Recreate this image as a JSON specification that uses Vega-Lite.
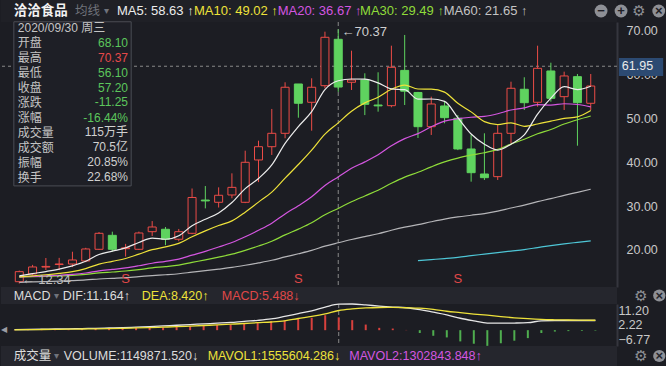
{
  "$schema": "https://vega.github.io/schema/vega-lite/v6.json",
  "padding": 0,
  "background": "#1c1d23",
  "spacing": 0,
  "bounds": "flush",
  "config": {
    "view": {"stroke": null},
    "font": "Liberation Sans, Noto Sans CJK SC, sans-serif",
    "text": {"font": "Liberation Sans, Noto Sans CJK SC, sans-serif"}
  },
  "datasets": {
    "k": [
      {"i":1,"o":12.76,"h":15.3,"l":12.34,"c":15.05,"m5":14.07,"m10":13.88,"m20":13.84,"m30":13.83,"m60":12.61,"dif":0.2,"dea":0.15,"macd":0.1},
      {"i":2,"o":14.52,"h":16.6,"l":14.3,"c":16.12,"m5":14.59,"m10":14.11,"m20":13.95,"m30":13.9,"m60":12.7,"dif":0.3,"dea":0.2,"macd":0.15},
      {"i":3,"o":16.1,"h":18.17,"l":15.43,"c":16.25,"m5":15.08,"m10":14.35,"m20":14.08,"m30":13.98,"m60":12.79,"dif":0.4,"dea":0.28,"macd":0.2},
      {"i":4,"o":16.7,"h":18.2,"l":15.4,"c":16.8,"m5":15.64,"m10":14.65,"m20":14.23,"m30":14.08,"m60":12.89,"dif":0.5,"dea":0.35,"macd":0.25},
      {"i":5,"o":16.8,"h":19.6,"l":16.1,"c":17.72,"m5":16.39,"m10":15.04,"m20":14.42,"m30":14.21,"m60":13.01,"dif":0.6,"dea":0.42,"macd":0.3},
      {"i":6,"o":17.49,"h":20.5,"l":17.2,"c":20.23,"m5":17.42,"m10":15.75,"m20":14.74,"m30":14.43,"m60":13.16,"dif":0.7,"dea":0.5,"macd":0.4},
      {"i":7,"o":20.16,"h":24.1,"l":20.0,"c":23.81,"m5":18.96,"m10":16.78,"m20":15.24,"m30":14.76,"m60":13.38,"dif":0.8,"dea":0.58,"macd":0.5},
      {"i":8,"o":23.35,"h":24.18,"l":19.6,"c":20.16,"m5":19.74,"m10":17.41,"m20":15.56,"m30":14.97,"m60":13.54,"dif":0.95,"dea":0.68,"macd":0.6},
      {"i":9,"o":20.3,"h":21.4,"l":18.5,"c":20.5,"m5":20.48,"m10":18.06,"m20":15.9,"m30":15.2,"m60":13.7,"dif":1.1,"dea":0.8,"macd":0.8,"s":"S"},
      {"i":10,"o":20.16,"h":24.2,"l":20.0,"c":23.88,"m5":21.72,"m10":19.05,"m20":16.4,"m30":15.53,"m60":13.92,"dif":1.3,"dea":0.95,"macd":1.0},
      {"i":11,"o":24.18,"h":26.6,"l":23.2,"c":25.25,"m5":22.72,"m10":20.07,"m20":16.97,"m30":15.92,"m60":14.16,"dif":1.5,"dea":1.1,"macd":1.2},
      {"i":12,"o":24.73,"h":25.25,"l":21.1,"c":22.45,"m5":22.45,"m10":20.71,"m20":17.41,"m30":16.2,"m60":14.35,"dif":1.8,"dea":1.3,"macd":1.2},
      {"i":13,"o":22.45,"h":24.8,"l":22.0,"c":24.18,"m5":23.25,"m10":21.5,"m20":17.93,"m30":16.55,"m60":14.58,"dif":2.1,"dea":1.5,"macd":1.4},
      {"i":14,"o":23.81,"h":34.04,"l":23.6,"c":31.99,"m5":25.55,"m10":23.02,"m20":18.83,"m30":17.16,"m60":14.93,"dif":2.4,"dea":1.75,"macd":1.7},
      {"i":15,"o":31.4,"h":34.6,"l":29.5,"c":31.2,"m5":27.01,"m10":24.37,"m20":19.7,"m30":17.74,"m60":15.27,"dif":2.7,"dea":2.0,"macd":2.0},
      {"i":16,"o":30.89,"h":34.3,"l":29.7,"c":32.49,"m5":28.46,"m10":25.59,"m20":20.67,"m30":18.36,"m60":15.63,"dif":3.0,"dea":2.25,"macd":2.3},
      {"i":17,"o":32.56,"h":37.5,"l":31.8,"c":34.3,"m5":30.83,"m10":26.64,"m20":21.71,"m30":19.04,"m60":16.02,"dif":3.3,"dea":2.55,"macd":2.4},
      {"i":18,"o":30.89,"h":42.67,"l":30.7,"c":40.02,"m5":34.0,"m10":28.63,"m20":23.02,"m30":19.92,"m60":16.51,"dif":3.8,"dea":2.85,"macd":3.1},
      {"i":19,"o":40.55,"h":44.95,"l":35.5,"c":43.58,"m5":36.32,"m10":30.93,"m20":24.5,"m30":20.91,"m60":17.05,"dif":4.2,"dea":3.2,"macd":3.4},
      {"i":20,"o":43.58,"h":52.2,"l":41.7,"c":46.64,"m5":39.41,"m10":33.21,"m20":26.13,"m30":22.0,"m60":17.65,"dif":4.8,"dea":3.5,"macd":3.9},
      {"i":21,"o":46.64,"h":58.29,"l":45.5,"c":57.15,"m5":44.34,"m10":36.4,"m20":28.24,"m30":23.45,"m60":18.42,"dif":5.9,"dea":4.0,"macd":4.2},
      {"i":22,"o":57.9,"h":57.9,"l":50.2,"c":53.5,"m5":48.18,"m10":39.51,"m20":30.11,"m30":24.77,"m60":19.14,"dif":7.1,"dea":5.0,"macd":4.9,"s":"S"},
      {"i":23,"o":53.72,"h":59.2,"l":47.24,"c":57.15,"m5":51.6,"m10":42.8,"m20":32.15,"m30":26.22,"m60":19.91,"dif":8.3,"dea":5.9,"macd":5.3},
      {"i":24,"o":57.51,"h":69.84,"l":56.92,"c":68.56,"m5":56.6,"m10":46.46,"m20":34.74,"m30":28.04,"m60":20.87,"dif":9.9,"dea":7.0,"macd":6.4},
      {"i":25,"o":68.1,"h":70.37,"l":56.1,"c":57.2,"m5":58.63,"m10":49.02,"m20":36.67,"m30":29.49,"m60":21.65,"dif":11.164,"dea":8.42,"macd":5.488},
      {"i":26,"o":58.29,"h":65.5,"l":56.53,"c":58.81,"m5":59.04,"m10":51.69,"m20":38.64,"m30":31.01,"m60":22.39,"dif":11.2,"dea":9.1,"macd":4.3},
      {"i":27,"o":58.81,"h":60.34,"l":50.8,"c":53.26,"m5":59.0,"m10":53.59,"m20":40.11,"m30":32.34,"m60":23.05,"dif":10.8,"dea":9.5,"macd":2.4},
      {"i":28,"o":53.1,"h":60.57,"l":51.58,"c":52.9,"m5":58.15,"m10":54.88,"m20":41.75,"m30":33.64,"m60":23.7,"dif":10.3,"dea":9.7,"macd":1.0},
      {"i":29,"o":52.95,"h":66.64,"l":52.58,"c":61.71,"m5":56.78,"m10":56.69,"m20":43.81,"m30":35.23,"m60":24.5,"dif":9.9,"dea":9.75,"macd":0.7},
      {"i":30,"o":61.0,"h":69.09,"l":53.1,"c":56.25,"m5":56.59,"m10":57.65,"m20":45.43,"m30":36.64,"m60":25.21,"dif":9.6,"dea":9.6,"macd":0.1},
      {"i":31,"o":55.96,"h":56.1,"l":45.57,"c":48.15,"m5":54.45,"m10":56.75,"m20":46.57,"m30":37.74,"m60":25.78,"m120":17.55,"dif":8.8,"dea":9.4,"macd":-1.2},
      {"i":32,"o":48.15,"h":55.0,"l":46.26,"c":53.33,"m5":54.47,"m10":56.73,"m20":48.12,"m30":38.98,"m60":26.44,"m120":17.8,"dif":7.7,"dea":8.9,"macd":-2.4},
      {"i":33,"o":52.88,"h":53.86,"l":48.93,"c":50.21,"m5":53.93,"m10":56.04,"m20":49.42,"m30":40.11,"m60":27.05,"m120":18.05,"dif":6.55,"dea":8.1,"macd":-3.1},
      {"i":34,"o":50.07,"h":50.8,"l":42.8,"c":43.06,"m5":50.2,"m10":53.49,"m20":49.97,"m30":40.99,"m60":27.54,"m120":18.33,"dif":5.1,"dea":7.5,"macd":-4.8,"s":"S"},
      {"i":35,"o":43.06,"h":46.26,"l":35.6,"c":37.65,"m5":46.48,"m10":51.53,"m20":50.3,"m30":41.65,"m60":27.93,"m120":18.7,"dif":4.0,"dea":6.9,"macd":-5.8},
      {"i":36,"o":37.35,"h":46.64,"l":35.98,"c":36.51,"m5":44.15,"m10":49.3,"m20":50.5,"m30":42.2,"m60":28.31,"m120":19.05,"dif":3.05,"dea":6.4,"macd":-6.7},
      {"i":37,"o":36.74,"h":48.5,"l":35.98,"c":46.64,"m5":42.81,"m10":48.64,"m20":51.11,"m30":42.96,"m60":28.86,"m120":19.4,"dif":3.0,"dea":5.8,"macd":-5.6},
      {"i":38,"o":46.64,"h":58.42,"l":44.36,"c":56.92,"m5":44.16,"m10":49.04,"m20":51.96,"m30":44.18,"m60":29.58,"m120":19.75,"dif":3.05,"dea":5.3,"macd":-4.5},
      {"i":39,"o":56.69,"h":59.43,"l":51.96,"c":53.63,"m5":46.27,"m10":48.24,"m20":52.46,"m30":45.29,"m60":30.24,"m120":20.1,"dif":3.2,"dea":4.9,"macd":-3.4},
      {"i":40,"o":53.72,"h":66.64,"l":52.72,"c":61.48,"m5":51.04,"m10":48.76,"m20":53.2,"m30":46.54,"m60":31.04,"m120":20.55,"dif":4.0,"dea":4.6,"macd":-1.2},
      {"i":41,"o":60.87,"h":62.76,"l":53.86,"c":54.63,"m5":54.66,"m10":49.41,"m20":53.08,"m30":47.52,"m60":31.72,"m120":21.0,"dif":4.15,"dea":4.45,"macd":-0.6},
      {"i":42,"o":55.0,"h":60.71,"l":51.96,"c":59.73,"m5":57.28,"m10":50.05,"m20":53.39,"m30":48.76,"m60":32.48,"m120":21.4,"dif":4.15,"dea":4.35,"macd":-0.4},
      {"i":43,"o":59.57,"h":60.18,"l":43.81,"c":53.63,"m5":56.62,"m10":50.39,"m20":53.21,"m30":49.74,"m60":33.15,"m120":21.75,"dif":4.15,"dea":4.3,"macd":-0.3},
      {"i":44,"o":53.49,"h":60.18,"l":51.96,"c":57.44,"m5":57.38,"m10":51.83,"m20":52.66,"m30":50.59,"m60":33.87,"m120":22.1,"dif":4.15,"dea":4.25,"macd":-0.2}
    ]
  },
  "vconcat": [
    {
      "width": 616, "height": 22,
      "view": {"fill": "#1f2026", "stroke": null},
      "data": {"values": [{}]},
      "layer": [
        {"mark": {"type": "text", "text": "洽洽食品", "align": "left", "fontSize": 13.5, "fontWeight": "bold", "color": "#f2f2f2", "font": "Noto Sans CJK SC"}, "encoding": {"x": {"datum": 0.94, "scale": {"domain": [0, 45.6], "nice": false, "zero": false}, "axis": null}}},
        {"mark": {"type": "text", "text": "均线", "align": "left", "fontSize": 12.5, "color": "#70737b", "font": "Noto Sans CJK SC"}, "encoding": {"x": {"datum": 5.48, "scale": {"domain": [0, 45.6], "nice": false, "zero": false}, "axis": null}}},
        {"mark": {"type": "text", "text": "▾", "align": "left", "fontSize": 10, "color": "#70737b"}, "encoding": {"x": {"datum": 7.62, "scale": {"domain": [0, 45.6], "nice": false, "zero": false}, "axis": null}}},
        {"mark": {"type": "text", "text": "MA5: 58.63 ↑", "align": "left", "fontSize": 13, "color": "#ececec"}, "encoding": {"x": {"datum": 8.59, "scale": {"domain": [0, 45.6], "nice": false, "zero": false}, "axis": null}}},
        {"mark": {"type": "text", "text": "MA10: 49.02 ↑", "align": "left", "fontSize": 13, "color": "#eee23a"}, "encoding": {"x": {"datum": 14.29, "scale": {"domain": [0, 45.6], "nice": false, "zero": false}, "axis": null}}},
        {"mark": {"type": "text", "text": "MA20: 36.67 ↑", "align": "left", "fontSize": 13, "color": "#d456e0"}, "encoding": {"x": {"datum": 20.48, "scale": {"domain": [0, 45.6], "nice": false, "zero": false}, "axis": null}}},
        {"mark": {"type": "text", "text": "MA30: 29.49 ↑", "align": "left", "fontSize": 13, "color": "#8fdc3a"}, "encoding": {"x": {"datum": 26.58, "scale": {"domain": [0, 45.6], "nice": false, "zero": false}, "axis": null}}},
        {"mark": {"type": "text", "text": "MA60: 21.65 ↑", "align": "left", "fontSize": 13, "color": "#c4c4c4"}, "encoding": {"x": {"datum": 32.77, "scale": {"domain": [0, 45.6], "nice": false, "zero": false}, "axis": null}}},
        {"mark": {"type": "point", "filled": true, "shape": "circle", "size": 165, "color": "#8e9096", "opacity": 1}, "encoding": {"x": {"datum": 44.42, "scale": {"domain": [0, 45.6], "nice": false, "zero": false}, "axis": null}}},
        {"mark": {"type": "point", "filled": true, "shape": "circle", "size": 165, "color": "#8e9096", "opacity": 1}, "encoding": {"x": {"datum": 45.9, "scale": {"domain": [0, 45.6], "nice": false, "zero": false}, "axis": null}}},
        {"mark": {"type": "point", "filled": true, "shape": "circle", "size": 165, "color": "#8e9096", "opacity": 1}, "encoding": {"x": {"datum": 48.69, "scale": {"domain": [0, 45.6], "nice": false, "zero": false}, "axis": null}}},
        {"mark": {"type": "text", "text": "−", "align": "center", "fontSize": 13, "fontWeight": "bold", "color": "#1f2026"}, "encoding": {"x": {"datum": 44.42, "scale": {"domain": [0, 45.6], "nice": false, "zero": false}, "axis": null}}},
        {"mark": {"type": "text", "text": "+", "align": "center", "fontSize": 13, "fontWeight": "bold", "color": "#1f2026"}, "encoding": {"x": {"datum": 45.9, "scale": {"domain": [0, 45.6], "nice": false, "zero": false}, "axis": null}}},
        {"mark": {"type": "text", "text": "⚙", "align": "center", "fontSize": 15, "color": "#8e9096", "font": "DejaVu Sans"}, "encoding": {"x": {"datum": 47.23, "scale": {"domain": [0, 45.6], "nice": false, "zero": false}, "axis": null}}},
        {"mark": {"type": "text", "text": "×", "align": "center", "fontSize": 13, "fontWeight": "bold", "color": "#1f2026"}, "encoding": {"x": {"datum": 48.69, "scale": {"domain": [0, 45.6], "nice": false, "zero": false}, "axis": null}}}
      ]
    },
    {
      "width": 616, "height": 265,
      "view": {"fill": "#1c1d23", "stroke": null},
      "data": {"name": "k"},
      "layer": [
        {"data": {"values": [{}]}, "mark": {"type": "rule", "color": "#8a8a8a", "strokeDash": [3, 3], "strokeWidth": 1}, "encoding": {"y": {"datum": 61.95, "scale": {"domain": [11.55, 72.05], "nice": false, "zero": false}}}},
        {"data": {"values": [{}]}, "mark": {"type": "rule", "color": "#8a8a8a", "strokeDash": [4, 3], "strokeWidth": 1}, "encoding": {"x": {"datum": 25, "scale": {"domain": [0, 45.6], "nice": false, "zero": false}, "axis": null}}},
        {"mark": {"type": "rule", "strokeWidth": 1},
         "encoding": {
           "x": {"field": "i", "type": "quantitative", "scale": {"domain": [0, 45.6], "nice": false, "zero": false}, "axis": null},
           "y": {"field": "l", "type": "quantitative", "scale": {"domain": [11.55, 72.05], "nice": false, "zero": false}},
           "y2": {"field": "h"},
           "color": {"condition": {"test": "datum.c >= datum.o", "value": "#ec4c47"}, "value": "#5fd35f"}
         }},
        {"mark": {"type": "bar", "size": 8, "strokeWidth": 1},
         "encoding": {
           "x": {"field": "i", "type": "quantitative", "scale": {"domain": [0, 45.6], "nice": false, "zero": false}, "axis": null},
           "y": {"field": "o", "type": "quantitative", "scale": {"domain": [11.55, 72.05], "nice": false, "zero": false},
                 "axis": {"orient": "right", "values": [20, 30, 40, 50, 60, 70], "format": ".2f", "labelColor": "#c8c8c8", "labelFontSize": 12.5, "labelFont": "Liberation Sans", "ticks": false, "grid": false, "domain": true, "domainColor": "#35363e", "domainWidth": 2, "labelPadding": 9, "labelOverlap": false, "title": null}},
           "y2": {"field": "c"},
           "fill": {"condition": {"test": "datum.c >= datum.o", "value": "#1c1d23"}, "value": "#5fd35f"},
           "stroke": {"condition": {"test": "datum.c >= datum.o", "value": "#ec4c47"}, "value": "#5fd35f"}
         }},
        {"mark": {"type": "line", "color": "#b5b5b8", "strokeWidth": 1.2, "interpolate": "monotone"}, "encoding": {"x": {"field": "i", "type": "quantitative", "scale": {"domain": [0, 45.6], "nice": false, "zero": false}, "axis": null}, "y": {"field": "m60", "type": "quantitative", "scale": {"domain": [11.55, 72.05], "nice": false, "zero": false}}}},
        {"mark": {"type": "line", "color": "#4ec6d6", "strokeWidth": 1.2, "interpolate": "monotone"}, "encoding": {"x": {"field": "i", "type": "quantitative", "scale": {"domain": [0, 45.6], "nice": false, "zero": false}, "axis": null}, "y": {"field": "m120", "type": "quantitative", "scale": {"domain": [11.55, 72.05], "nice": false, "zero": false}}}},
        {"mark": {"type": "line", "color": "#8fdc3a", "strokeWidth": 1.2, "interpolate": "monotone"}, "encoding": {"x": {"field": "i", "type": "quantitative", "scale": {"domain": [0, 45.6], "nice": false, "zero": false}, "axis": null}, "y": {"field": "m30", "type": "quantitative", "scale": {"domain": [11.55, 72.05], "nice": false, "zero": false}}}},
        {"mark": {"type": "line", "color": "#d456e0", "strokeWidth": 1.2, "interpolate": "monotone"}, "encoding": {"x": {"field": "i", "type": "quantitative", "scale": {"domain": [0, 45.6], "nice": false, "zero": false}, "axis": null}, "y": {"field": "m20", "type": "quantitative", "scale": {"domain": [11.55, 72.05], "nice": false, "zero": false}}}},
        {"mark": {"type": "line", "color": "#eee23a", "strokeWidth": 1.2, "interpolate": "monotone"}, "encoding": {"x": {"field": "i", "type": "quantitative", "scale": {"domain": [0, 45.6], "nice": false, "zero": false}, "axis": null}, "y": {"field": "m10", "type": "quantitative", "scale": {"domain": [11.55, 72.05], "nice": false, "zero": false}}}},
        {"mark": {"type": "line", "color": "#ececec", "strokeWidth": 1.2, "interpolate": "monotone"}, "encoding": {"x": {"field": "i", "type": "quantitative", "scale": {"domain": [0, 45.6], "nice": false, "zero": false}, "axis": null}, "y": {"field": "m5", "type": "quantitative", "scale": {"domain": [11.55, 72.05], "nice": false, "zero": false}}}},
        {"transform": [{"filter": "datum.s == 'S'"}], "mark": {"type": "text", "text": "S", "fontSize": 13, "color": "#e04848", "baseline": "middle"}, "encoding": {"x": {"field": "i", "type": "quantitative", "scale": {"domain": [0, 45.6], "nice": false, "zero": false}, "axis": null}, "y": {"datum": 13.38, "scale": {"domain": [11.55, 72.05], "nice": false, "zero": false}}}},
        {"data": {"values": [{}]}, "mark": {"type": "rect", "fill": "#1e1f26", "stroke": "#4b4d55", "strokeWidth": 1}, "encoding": {"x": {"datum": 0.59, "scale": {"domain": [0, 45.6], "nice": false, "zero": false}, "axis": null}, "x2": {"datum": 9.42}, "y": {"datum": 72.1, "scale": {"domain": [11.55, 72.05], "nice": false, "zero": false}}, "y2": {"datum": 34.63}}},
        {"data": {"values": [{}]}, "mark": {"type": "text", "align": "left", "baseline": "top", "fontSize": 12, "lineHeight": 14.94, "color": "#c4c4c4", "text": ["2020/09/30 周三", "开盘", "最高", "最低", "收盘", "涨跌", "涨幅", "成交量", "成交额", "振幅", "换手"]}, "encoding": {"x": {"datum": 0.89, "scale": {"domain": [0, 45.6], "nice": false, "zero": false}, "axis": null}, "y": {"datum": 71.74, "scale": {"domain": [11.55, 72.05], "nice": false, "zero": false}}}},
        {"data": {"values": [{}]}, "mark": {"type": "text", "text": "68.10", "align": "right", "baseline": "middle", "fontSize": 12, "color": "#5cc65c"}, "encoding": {"x": {"datum": 9.18, "scale": {"domain": [0, 45.6], "nice": false, "zero": false}, "axis": null}, "y": {"datum": 67.19, "scale": {"domain": [11.55, 72.05], "nice": false, "zero": false}}}},
        {"data": {"values": [{}]}, "mark": {"type": "text", "text": "70.37", "align": "right", "baseline": "middle", "fontSize": 12, "color": "#e64a4a"}, "encoding": {"x": {"datum": 9.18, "scale": {"domain": [0, 45.6], "nice": false, "zero": false}, "axis": null}, "y": {"datum": 63.77, "scale": {"domain": [11.55, 72.05], "nice": false, "zero": false}}}},
        {"data": {"values": [{}]}, "mark": {"type": "text", "text": "56.10", "align": "right", "baseline": "middle", "fontSize": 12, "color": "#5cc65c"}, "encoding": {"x": {"datum": 9.18, "scale": {"domain": [0, 45.6], "nice": false, "zero": false}, "axis": null}, "y": {"datum": 60.48, "scale": {"domain": [11.55, 72.05], "nice": false, "zero": false}}}},
        {"data": {"values": [{}]}, "mark": {"type": "text", "text": "57.20", "align": "right", "baseline": "middle", "fontSize": 12, "color": "#5cc65c"}, "encoding": {"x": {"datum": 9.18, "scale": {"domain": [0, 45.6], "nice": false, "zero": false}, "axis": null}, "y": {"datum": 57.05, "scale": {"domain": [11.55, 72.05], "nice": false, "zero": false}}}},
        {"data": {"values": [{}]}, "mark": {"type": "text", "text": "-11.25", "align": "right", "baseline": "middle", "fontSize": 12, "color": "#5cc65c"}, "encoding": {"x": {"datum": 9.18, "scale": {"domain": [0, 45.6], "nice": false, "zero": false}, "axis": null}, "y": {"datum": 53.72, "scale": {"domain": [11.55, 72.05], "nice": false, "zero": false}}}},
        {"data": {"values": [{}]}, "mark": {"type": "text", "text": "-16.44%", "align": "right", "baseline": "middle", "fontSize": 12, "color": "#5cc65c"}, "encoding": {"x": {"datum": 9.18, "scale": {"domain": [0, 45.6], "nice": false, "zero": false}, "axis": null}, "y": {"datum": 50.21, "scale": {"domain": [11.55, 72.05], "nice": false, "zero": false}}}},
        {"data": {"values": [{}]}, "mark": {"type": "text", "text": "115万手", "align": "right", "baseline": "middle", "fontSize": 12, "color": "#d0d0d0"}, "encoding": {"x": {"datum": 9.18, "scale": {"domain": [0, 45.6], "nice": false, "zero": false}, "axis": null}, "y": {"datum": 46.87, "scale": {"domain": [11.55, 72.05], "nice": false, "zero": false}}}},
        {"data": {"values": [{}]}, "mark": {"type": "text", "text": "70.5亿", "align": "right", "baseline": "middle", "fontSize": 12, "color": "#d0d0d0"}, "encoding": {"x": {"datum": 9.18, "scale": {"domain": [0, 45.6], "nice": false, "zero": false}, "axis": null}, "y": {"datum": 43.45, "scale": {"domain": [11.55, 72.05], "nice": false, "zero": false}}}},
        {"data": {"values": [{}]}, "mark": {"type": "text", "text": "20.85%", "align": "right", "baseline": "middle", "fontSize": 12, "color": "#d0d0d0"}, "encoding": {"x": {"datum": 9.18, "scale": {"domain": [0, 45.6], "nice": false, "zero": false}, "axis": null}, "y": {"datum": 40.02, "scale": {"domain": [11.55, 72.05], "nice": false, "zero": false}}}},
        {"data": {"values": [{}]}, "mark": {"type": "text", "text": "22.68%", "align": "right", "baseline": "middle", "fontSize": 12, "color": "#d0d0d0"}, "encoding": {"x": {"datum": 9.18, "scale": {"domain": [0, 45.6], "nice": false, "zero": false}, "axis": null}, "y": {"datum": 36.74, "scale": {"domain": [11.55, 72.05], "nice": false, "zero": false}}}},
        {"data": {"values": [{}]}, "mark": {"type": "text", "text": "←70.37", "align": "left", "baseline": "middle", "fontSize": 13, "color": "#cfcfcf"}, "encoding": {"x": {"datum": 25.24, "scale": {"domain": [0, 45.6], "nice": false, "zero": false}, "axis": null}, "y": {"datum": 69.66, "scale": {"domain": [11.55, 72.05], "nice": false, "zero": false}}}},
        {"data": {"values": [{}]}, "mark": {"type": "text", "text": "← 12.34", "align": "left", "baseline": "middle", "fontSize": 13, "color": "#bdbdbd"}, "encoding": {"x": {"datum": 1.18, "scale": {"domain": [0, 45.6], "nice": false, "zero": false}, "axis": null}, "y": {"datum": 13.15, "scale": {"domain": [11.55, 72.05], "nice": false, "zero": false}}}},
        {"data": {"values": [{}]}, "mark": {"type": "rect", "fill": "#2c4a72"}, "encoding": {"x": {"datum": 46.12, "scale": {"domain": [0, 45.6], "nice": false, "zero": false}, "axis": null}, "x2": {"datum": 49.45}, "y": {"datum": 63.84, "scale": {"domain": [11.55, 72.05], "nice": false, "zero": false}}, "y2": {"datum": 59.73}}},
        {"data": {"values": [{}]}, "mark": {"type": "text", "text": "61.95", "align": "left", "baseline": "middle", "fontSize": 12.5, "color": "#eaeaea"}, "encoding": {"x": {"datum": 46.34, "scale": {"domain": [0, 45.6], "nice": false, "zero": false}, "axis": null}, "y": {"datum": 61.95, "scale": {"domain": [11.55, 72.05], "nice": false, "zero": false}}}}
      ]
    },
    {
      "width": 616, "height": 17,
      "view": {"fill": "#25262d", "stroke": null},
      "data": {"values": [{}]},
      "layer": [
        {"mark": {"type": "text", "text": "MACD", "align": "left", "fontSize": 12.5, "color": "#dcdcdc"}, "encoding": {"x": {"datum": 0.94, "scale": {"domain": [0, 45.6], "nice": false, "zero": false}, "axis": null}}},
        {"mark": {"type": "text", "text": "▾", "align": "left", "fontSize": 10, "color": "#70737b"}, "encoding": {"x": {"datum": 3.92, "scale": {"domain": [0, 45.6], "nice": false, "zero": false}, "axis": null}}},
        {"mark": {"type": "text", "text": "DIF:11.164↑", "align": "left", "fontSize": 12.5, "color": "#dcdcdc"}, "encoding": {"x": {"datum": 4.57, "scale": {"domain": [0, 45.6], "nice": false, "zero": false}, "axis": null}}},
        {"mark": {"type": "text", "text": "DEA:8.420↑", "align": "left", "fontSize": 12.5, "color": "#eee23a"}, "encoding": {"x": {"datum": 10.42, "scale": {"domain": [0, 45.6], "nice": false, "zero": false}, "axis": null}}},
        {"mark": {"type": "text", "text": "MACD:5.488↓", "align": "left", "fontSize": 12.5, "color": "#e04848"}, "encoding": {"x": {"datum": 16.34, "scale": {"domain": [0, 45.6], "nice": false, "zero": false}, "axis": null}}},
        {"mark": {"type": "text", "text": "⚙", "align": "center", "fontSize": 15, "color": "#8e9096", "font": "DejaVu Sans"}, "encoding": {"x": {"datum": 47.38, "scale": {"domain": [0, 45.6], "nice": false, "zero": false}, "axis": null}}},
        {"mark": {"type": "point", "filled": true, "shape": "circle", "size": 150, "color": "#8e9096", "opacity": 1}, "encoding": {"x": {"datum": 48.73, "scale": {"domain": [0, 45.6], "nice": false, "zero": false}, "axis": null}}},
        {"mark": {"type": "text", "text": "×", "align": "center", "fontSize": 13, "fontWeight": "bold", "color": "#25262d"}, "encoding": {"x": {"datum": 48.73, "scale": {"domain": [0, 45.6], "nice": false, "zero": false}, "axis": null}}}
      ]
    },
    {
      "width": 616, "height": 42,
      "view": {"fill": "#1c1d23", "stroke": null},
      "data": {"name": "k"},
      "layer": [
        {"data": {"values": [{}]}, "mark": {"type": "rule", "color": "#8a8a8a", "strokeDash": [4, 3], "strokeWidth": 1}, "encoding": {"x": {"datum": 25, "scale": {"domain": [0, 45.6], "nice": false, "zero": false}, "axis": null}}},
        {"mark": {"type": "rule", "strokeWidth": 2},
         "encoding": {
           "x": {"field": "i", "type": "quantitative", "scale": {"domain": [0, 45.6], "nice": false, "zero": false}, "axis": null},
           "y": {"field": "macd", "type": "quantitative", "scale": {"domain": [-6.77, 11.2], "nice": false, "zero": false},
                 "axis": {"orient": "right", "values": [-6.77, 11.2], "format": ".2f", "labelFlush": true, "labelOverlap": false, "labelColor": "#c8c8c8", "labelFontSize": 12.5, "labelFont": "Liberation Sans", "ticks": false, "grid": false, "domain": true, "domainColor": "#35363e", "domainWidth": 2, "labelPadding": 1, "title": null}},
           "y2": {"datum": 0},
           "color": {"condition": {"test": "datum.macd >= 0", "value": "#d8413d"}, "value": "#4fae4f"}
         }},
        {"mark": {"type": "line", "color": "#e6e6e6", "strokeWidth": 1.3, "interpolate": "monotone"}, "encoding": {"x": {"field": "i", "type": "quantitative", "scale": {"domain": [0, 45.6], "nice": false, "zero": false}, "axis": null}, "y": {"field": "dif", "type": "quantitative", "scale": {"domain": [-6.77, 11.2], "nice": false, "zero": false}}}},
        {"mark": {"type": "line", "color": "#eee23a", "strokeWidth": 1.3, "interpolate": "monotone"}, "encoding": {"x": {"field": "i", "type": "quantitative", "scale": {"domain": [0, 45.6], "nice": false, "zero": false}, "axis": null}, "y": {"field": "dea", "type": "quantitative", "scale": {"domain": [-6.77, 11.2], "nice": false, "zero": false}}}},
        {"data": {"values": [{}]}, "mark": {"type": "text", "text": "2.22", "align": "left", "baseline": "middle", "fontSize": 12.5, "color": "#c8c8c8", "font": "Liberation Sans"}, "encoding": {"x": {"datum": 45.69, "scale": {"domain": [0, 45.6], "nice": false, "zero": false}, "axis": null}, "y": {"datum": 2.22, "scale": {"domain": [-6.77, 11.2], "nice": false, "zero": false}}}},
        {"data": {"values": [{}]}, "mark": {"type": "text", "text": "◀", "align": "left", "baseline": "middle", "fontSize": 8, "color": "#9a9ca3", "font": "DejaVu Sans"}, "encoding": {"x": {"datum": 0.0, "scale": {"domain": [0, 45.6], "nice": false, "zero": false}, "axis": null}, "y": {"datum": 0, "scale": {"domain": [-6.77, 11.2], "nice": false, "zero": false}}}}
      ]
    },
    {
      "width": 616, "height": 20,
      "view": {"fill": "#25262d", "stroke": null},
      "data": {"values": [{}]},
      "layer": [
        {"mark": {"type": "text", "text": "成交量", "align": "left", "fontSize": 12.5, "color": "#dcdcdc", "font": "Noto Sans CJK SC"}, "encoding": {"x": {"datum": 0.94, "scale": {"domain": [0, 45.6], "nice": false, "zero": false}, "axis": null}}},
        {"mark": {"type": "text", "text": "▾", "align": "left", "fontSize": 10, "color": "#70737b"}, "encoding": {"x": {"datum": 3.92, "scale": {"domain": [0, 45.6], "nice": false, "zero": false}, "axis": null}}},
        {"mark": {"type": "text", "text": "VOLUME:1149871.520↓", "align": "left", "fontSize": 12.5, "color": "#dcdcdc"}, "encoding": {"x": {"datum": 4.64, "scale": {"domain": [0, 45.6], "nice": false, "zero": false}, "axis": null}}},
        {"mark": {"type": "text", "text": "MAVOL1:1555604.286↓", "align": "left", "fontSize": 12.5, "color": "#eee23a"}, "encoding": {"x": {"datum": 15.3, "scale": {"domain": [0, 45.6], "nice": false, "zero": false}, "axis": null}}},
        {"mark": {"type": "text", "text": "MAVOL2:1302843.848↑", "align": "left", "fontSize": 12.5, "color": "#d456e0"}, "encoding": {"x": {"datum": 25.78, "scale": {"domain": [0, 45.6], "nice": false, "zero": false}, "axis": null}}},
        {"mark": {"type": "text", "text": "⚙", "align": "center", "fontSize": 15, "color": "#8e9096", "font": "DejaVu Sans"}, "encoding": {"x": {"datum": 47.38, "scale": {"domain": [0, 45.6], "nice": false, "zero": false}, "axis": null}}},
        {"mark": {"type": "point", "filled": true, "shape": "circle", "size": 150, "color": "#8e9096", "opacity": 1}, "encoding": {"x": {"datum": 48.73, "scale": {"domain": [0, 45.6], "nice": false, "zero": false}, "axis": null}}},
        {"mark": {"type": "text", "text": "×", "align": "center", "fontSize": 13, "fontWeight": "bold", "color": "#25262d"}, "encoding": {"x": {"datum": 48.73, "scale": {"domain": [0, 45.6], "nice": false, "zero": false}, "axis": null}}}
      ]
    }
  ]
}
